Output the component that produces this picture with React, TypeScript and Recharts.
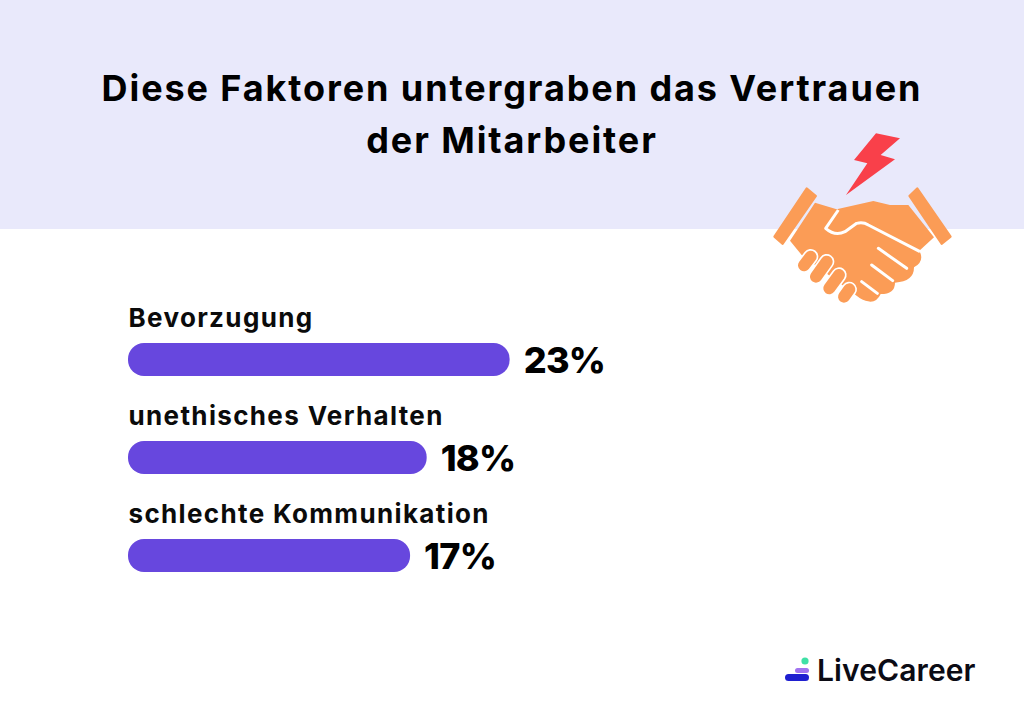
import { BarChart, Bar, XAxis, YAxis, LabelList } from 'recharts';

const categories = ['Bevorzugung', 'unethisches Verhalten', 'schlechte Kommunikation'];
const values = [23, 18, 17];
const titleLines = ['Diese Faktoren untergraben das Vertrauen', 'der Mitarbeiter'];

const chartData = categories.map((label, i) => ({ label, value: values[i] }));
const FONT = 'Inter, "Open Sans", sans-serif';

function CategoryLabel({ x, y, value }: any) {
  return (
    <text x={x + 0.5} y={y - 16} fontFamily={FONT} fontSize={26} fontWeight={700} fill="#0b0b0b" letterSpacing={1.35}>
      {value}
    </text>
  );
}

function ValueLabel({ x, y, width, height, value }: any) {
  return (
    <text x={x + width + 14} y={y + height / 2 + 13} fontFamily={FONT} fontSize={36} fontWeight={800} fill="#000" letterSpacing={-0.7}>
      {value}%
    </text>
  );
}

function Handshake() {
  const orange = '#fb9c56';
  return (
    <svg width={200} height={190} viewBox="0 0 600 570" style={{ position: 'absolute', left: 760, top: 120 }}>
      <polygon points="348,40 420,55 362,105 405,118 258,225 322,130 282,120" fill="#f9404a" />
      <polygon points="140,205 168,228 68,372 43,350" fill={orange} stroke={orange} strokeWidth={6} strokeLinejoin="round" />
      <polygon points="472,205 448,228 545,372 572,350" fill={orange} stroke={orange} strokeWidth={6} strokeLinejoin="round" />
      <path
        d="M165,248 L230,268 L340,243 L390,255 L445,255 L522,352 L478,392 Q495,425 462,442 Q462,485 405,488 Q405,522 362,522 Q345,560 300,535 L125,405 L90,362 Z"
        fill={orange}
      />
      <path
        d="M235,270 L197,325 Q225,350 255,335 L290,310 Q310,305 325,315 L480,395"
        fill="none"
        stroke="#fff"
        strokeWidth={9}
        strokeLinejoin="round"
      />
      <path d="M355,385 L440,445 M335,435 L398,482 M305,485 L352,520" fill="none" stroke="#fff" strokeWidth={9} strokeLinecap="round" />
      {[
        [152, 410, 132, 436],
        [200, 425, 168, 470],
        [237, 465, 208, 505],
        [268, 508, 252, 530],
      ].map(([x1, y1, x2, y2], i) => (
        <g key={i}>
          <line x1={x1} y1={y1} x2={x2} y2={y2} stroke="#fff" strokeWidth={46} strokeLinecap="round" />
          <line x1={x1} y1={y1} x2={x2} y2={y2} stroke={orange} strokeWidth={36} strokeLinecap="round" />
        </g>
      ))}
    </svg>
  );
}

function Logo() {
  return (
    <svg width={220} height={50} style={{ position: 'absolute', left: 770, top: 645 }}>
      <circle cx={35} cy={16} r={3.6} fill="#3fe0a6" />
      <rect x={25} y={23} width={14} height={5} rx={2.5} fill="#a173f0" />
      <rect x={15} y={29} width={24} height={7} rx={3.5} fill="#1f1fd0" />
      <text x={47} y={36} fontFamily={FONT} fontSize={30} fontWeight={600} fill="#0b0b14" letterSpacing={0.1}>
        LiveCareer
      </text>
    </svg>
  );
}

export default function App() {
  return (
    <div style={{ position: 'absolute', left: 0, top: 0, width: 1024, height: 726, background: '#fff', overflow: 'hidden' }}>
      <div style={{ position: 'absolute', left: 0, top: 0, width: 1024, height: 229, background: '#e9e9fb' }} />
      <div
        style={{
          position: 'absolute',
          left: 0,
          top: 62,
          width: 1024,
          textAlign: 'center',
          fontFamily: FONT,
          fontSize: 36,
          fontWeight: 700,
          letterSpacing: 1.9,
          lineHeight: '52px',
          color: '#000',
        }}
      >
        {titleLines.map((line) => (
          <div key={line}>{line}</div>
        ))}
      </div>
      <div style={{ position: 'absolute', left: 0, top: 0 }}>
        <BarChart
          width={1024}
          height={726}
          data={chartData}
          layout="vertical"
          margin={{ top: 310, right: 0, bottom: 122, left: 128 }}
        >
          <XAxis type="number" domain={[0, 54]} hide />
          <YAxis type="category" dataKey="label" hide />
          <Bar dataKey="value" fill="#6747de" barSize={33} radius={[16, 16, 16, 16]} isAnimationActive={false}>
            <LabelList dataKey="label" content={CategoryLabel} />
            <LabelList dataKey="value" content={ValueLabel} />
          </Bar>
        </BarChart>
      </div>
      <Handshake />
      <Logo />
    </div>
  );
}
